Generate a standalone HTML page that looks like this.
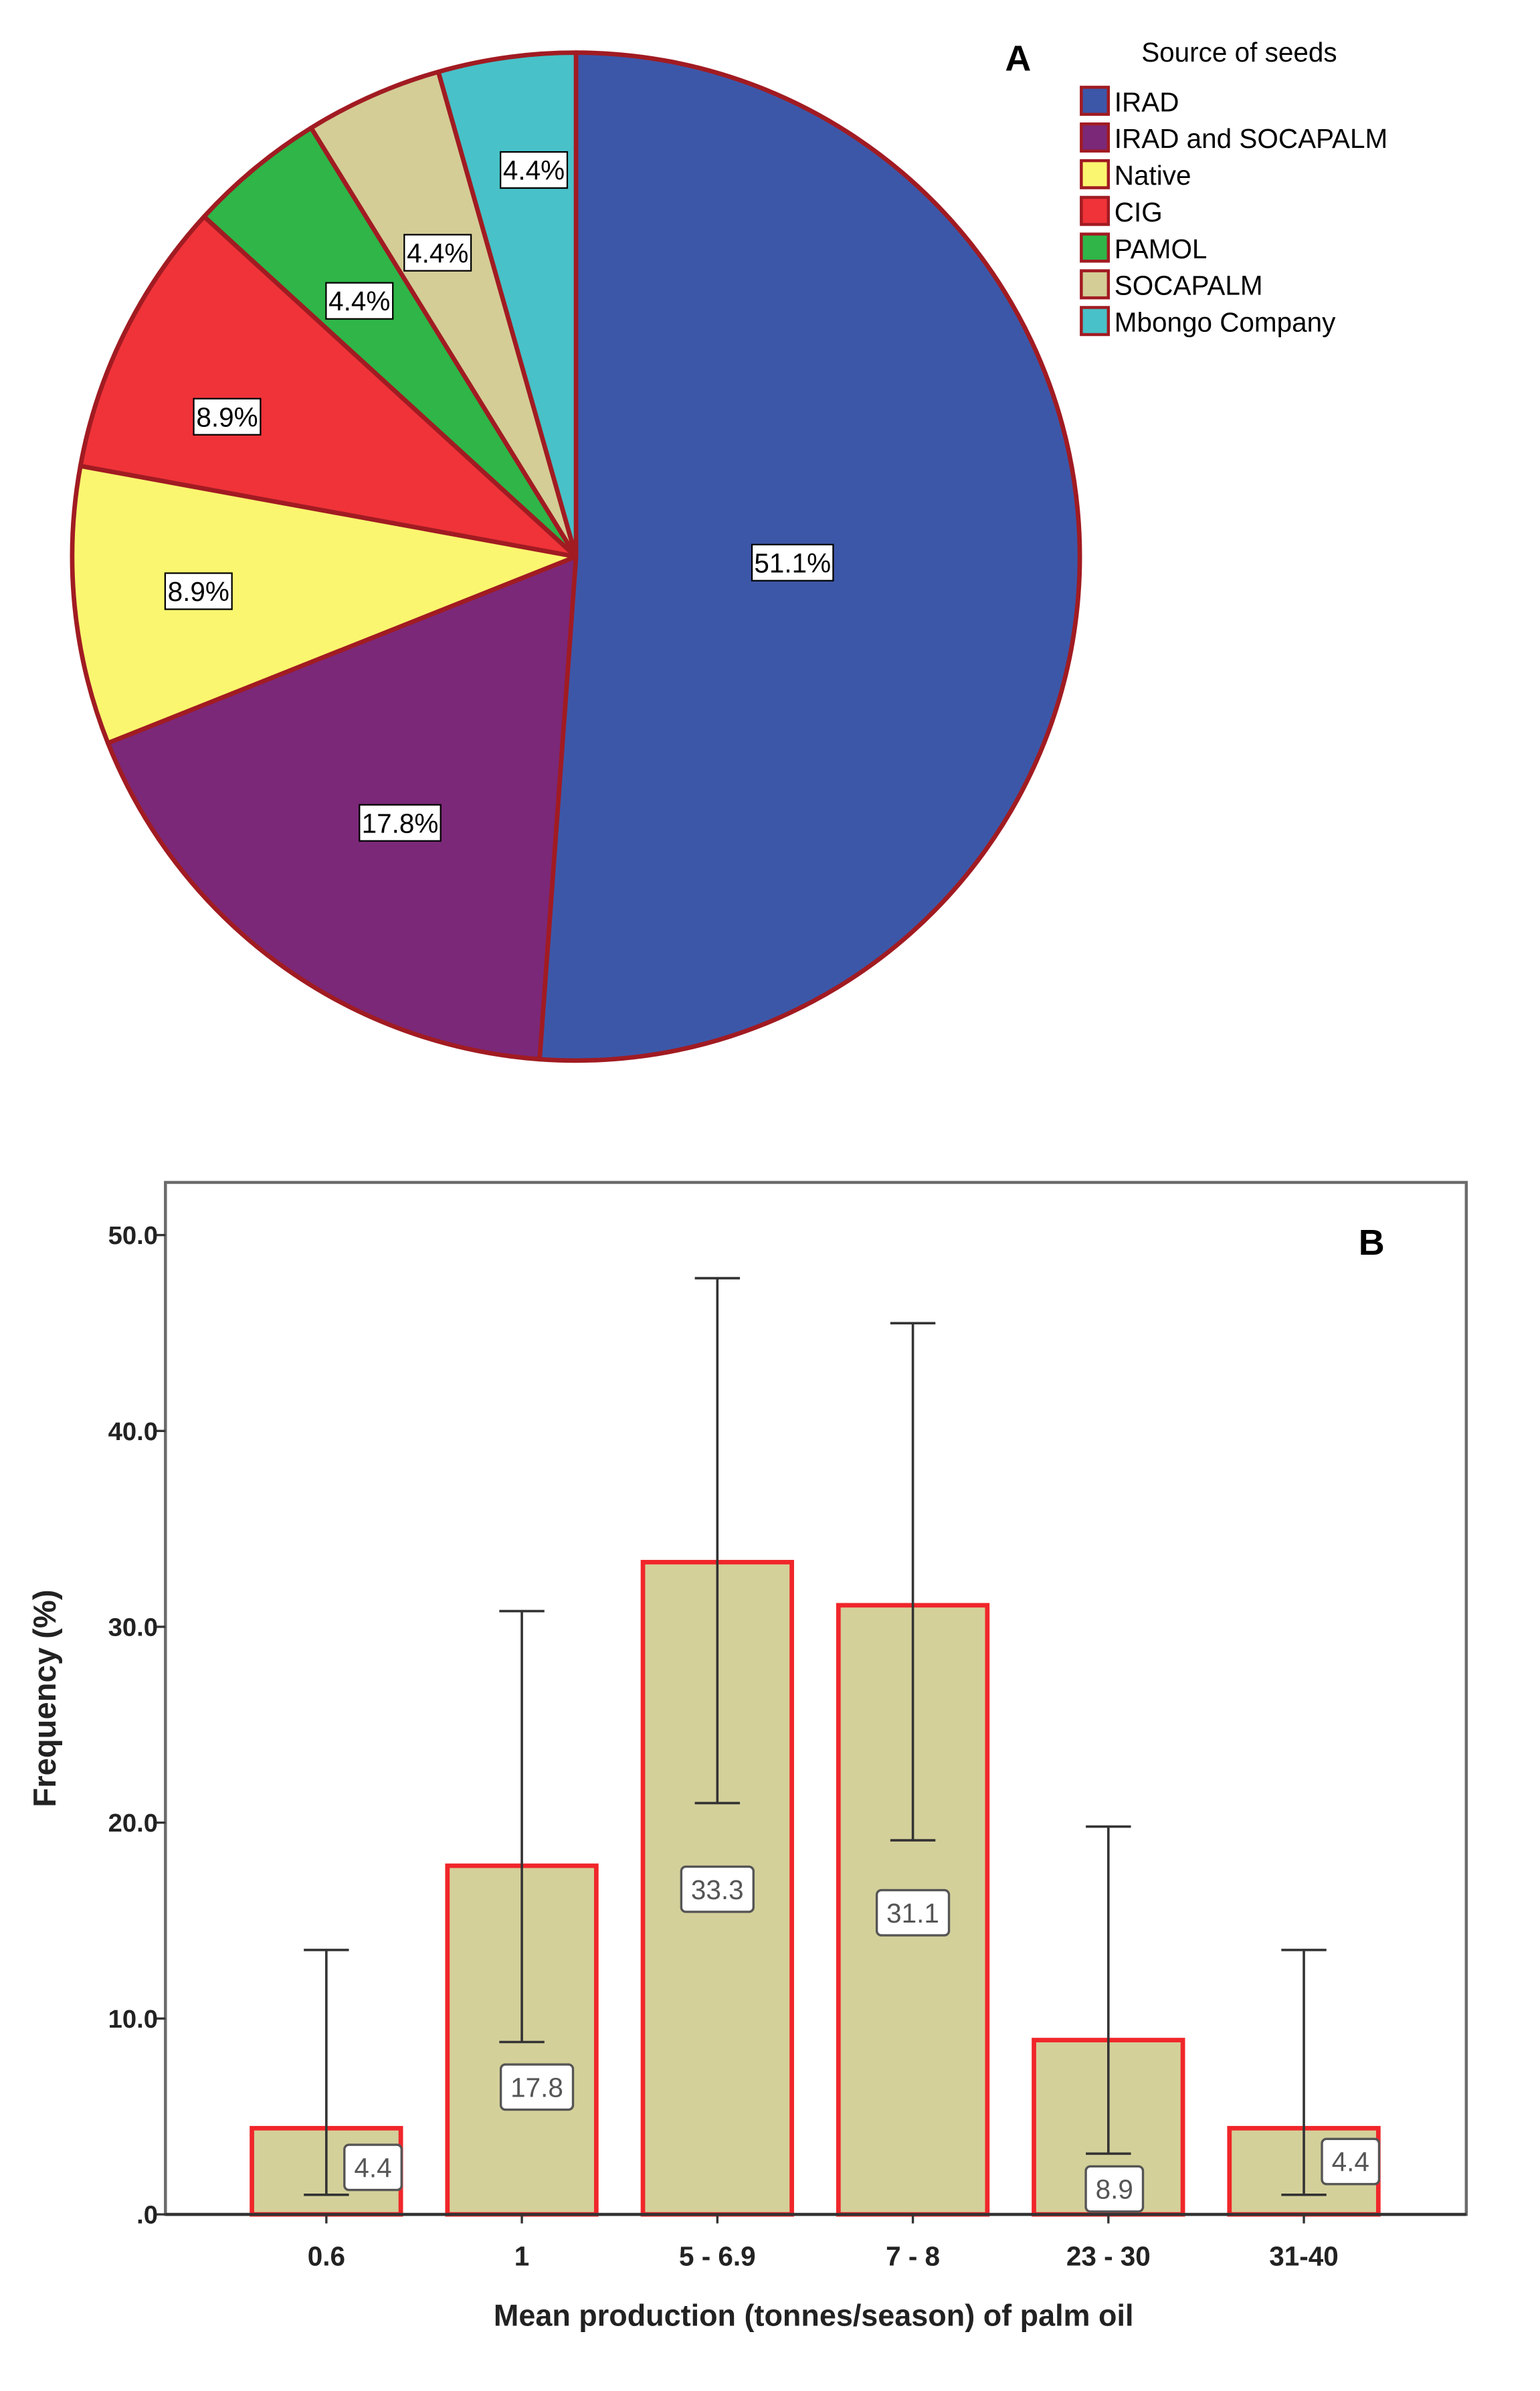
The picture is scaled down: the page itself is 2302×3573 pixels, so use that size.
<!DOCTYPE html>
<html><head><meta charset="utf-8"><style>
html,body{margin:0;padding:0;background:#fff;}
svg{display:block;font-family:"Liberation Sans",Arial,sans-serif;}
</style></head><body>
<svg id="fig" width="2302" height="3573" viewBox="0 0 1024 1589.4" xmlns="http://www.w3.org/2000/svg">
<rect x="0" y="0" width="1024" height="1589.4" fill="#fff"/>
<g id="pie"></g>
<text x="677" y="47" font-size="24" font-weight="bold" text-anchor="middle">A</text>
<text x="824" y="41" font-size="18" text-anchor="middle">Source of seeds</text>
<g id="legend"></g>
<g id="bars"></g>
</svg>
<script>
const sliceNames = ["IRAD","IRAD and SOCAPALM","Native","CIG","PAMOL","SOCAPALM","Mbongo Company"];
const sliceValues = [51.1,17.8,8.9,8.9,4.4,4.4,4.4];
const sliceLabels = ["51.1%","17.8%","8.9%","8.9%","4.4%","4.4%","4.4%"];
const sliceColors = ["#3d57a8","#7b2878","#fbf66f","#ef3339","#2fb548","#d4cd96","#48c1c8"];

const categories = ["0.6","1","5 - 6.9","7 - 8","23 - 30","31-40"];
const barValues = [4.4,17.8,33.3,31.1,8.9,4.4];
const barLabels = ["4.4","17.8","33.3","31.1","8.9","4.4"];
const errLow = [1.0,8.8,21.0,19.1,3.1,1.0];
const errHigh = [13.5,30.8,47.8,45.5,19.8,13.5];
const labelAt = [2.4,6.5,16.6,15.4,1.3,2.7];
const yTicks = [0,10,20,30,40,50];
const yTickLabels = [".0","10.0","20.0","30.0","40.0","50.0"];

const NS="http://www.w3.org/2000/svg";
function mk(tag,attrs,parent){const e=document.createElementNS(NS,tag);for(const k in attrs)e.setAttribute(k,attrs[k]);parent.appendChild(e);return e;}

// Pie
const pie=document.getElementById('pie');
const cx=383, cy=370, r=335;
const labelPos=[[527,374],[266,547],[132,393],[151,277],[239,200],[291,168],[355,113]];
const total=sliceValues.reduce((a,b)=>a+b,0);
let acc=0;
sliceValues.forEach((v,i)=>{
  const a0=acc/total*2*Math.PI; acc+=v; const a1=acc/total*2*Math.PI;
  const x0=cx+r*Math.sin(a0), y0=cy-r*Math.cos(a0), x1=cx+r*Math.sin(a1), y1=cy-r*Math.cos(a1);
  const large=(a1-a0)>Math.PI?1:0;
  const p=mk('path',{d:`M${cx},${cy} L${x0},${y0} A${r},${r} 0 ${large} 1 ${x1},${y1} Z`,fill:sliceColors[i],stroke:'#a11b22','stroke-width':3,'stroke-linejoin':'round'},pie);
  
  
});
sliceLabels.forEach((t,i)=>{
  const [lx,ly]=labelPos[i];
  const w=t.length*9.6+6;
  const b=mk('rect',{x:lx-w/2,y:ly-12,width:w,height:24,fill:'#fff',stroke:'#000','stroke-width':1},pie);
  
  
  const tx=mk('text',{x:lx,y:ly+6.5,'font-size':18,'text-anchor':'middle'},pie);
  tx.textContent=t;
  
  
});
// Legend
const lg=document.getElementById('legend');
sliceNames.forEach((n,i)=>{
  const y=67+i*24.4;
  const s=mk('rect',{x:719,y:y-9,width:18,height:18,fill:sliceColors[i],stroke:'#a11b22','stroke-width':2},lg);
  
  
  const t=mk('text',{x:741,y:y+7,'font-size':18},lg);
  t.textContent=n;
  
  
});

// Bar chart
const bg=document.getElementById('bars');
const px0=110, px1=975, py0=786, py1=1472;
const Y=v=>py1-v*(py1-821)/50;
const X=i=>217+i*130;
const bw=99;
const fr=mk('rect',{x:px0,y:py0,width:px1-px0,height:py1-py0,fill:'#fff',stroke:'#6b6b6b','stroke-width':2},bg);


yTicks.forEach((v,i)=>{
  const l=mk('line',{x1:px0-6,x2:px0,y1:Y(v),y2:Y(v),stroke:'#333','stroke-width':1.5},bg);
  
  
  const t=mk('text',{x:px0-5,y:Y(v)+6,'font-size':17,'font-weight':'bold','text-anchor':'end',fill:'#222'},bg);
  t.textContent=yTickLabels[i];
  
  
});
barValues.forEach((v,i)=>{
  const b=mk('rect',{x:X(i)-bw/2,y:Y(v),width:bw,height:Y(0)-Y(v),fill:'#d4d09a',stroke:'#f0262a','stroke-width':3},bg);
  
  
});
const ax=mk('line',{x1:px0,x2:px1,y1:py1,y2:py1,stroke:'#333','stroke-width':2},bg);


barValues.forEach((v,i)=>{
  const x=X(i);
  const e=mk('path',{d:`M${x},${Y(errLow[i])} V${Y(errHigh[i])} M${x-15},${Y(errHigh[i])} H${x+15} M${x-15},${Y(errLow[i])} H${x+15}`,stroke:'#333','stroke-width':1.6,fill:'none'},bg);
  
  
  const off=[31,10,0,0,4,31][i];
  const lx=x+off, ly=Y(labelAt[i]);
  const w=barLabels[i].length*10+8;
  const bx=mk('rect',{x:lx-w/2,y:ly-15,width:w,height:30,rx:3,fill:'#fff',stroke:'#555','stroke-width':1.5},bg);
  
  
  const t=mk('text',{x:lx,y:ly+6.5,'font-size':18,'text-anchor':'middle',fill:'#555'},bg);
  t.textContent=barLabels[i];
  
  
  const tk=mk('line',{x1:x,x2:x,y1:py1,y2:py1+6,stroke:'#333','stroke-width':1.5},bg);
  
  
  const xl=mk('text',{x:x,y:1506,'font-size':18,'font-weight':'bold','text-anchor':'middle',fill:'#222'},bg);
  xl.textContent=categories[i];
  
  
});
const xt=mk('text',{x:541,y:1546,'font-size':20,'font-weight':'bold','text-anchor':'middle',fill:'#222'},bg);
xt.textContent='Mean production (tonnes/season) of palm oil';


const yt=mk('text',{x:0,y:0,'font-size':21,'font-weight':'bold','text-anchor':'middle',fill:'#222',transform:'translate(37,1129) rotate(-90)'},bg);
yt.textContent='Frequency (%)';


const pb=mk('text',{x:912,y:834,'font-size':24,'font-weight':'bold','text-anchor':'middle'},bg);
pb.textContent='B';


</script>
</body></html>
